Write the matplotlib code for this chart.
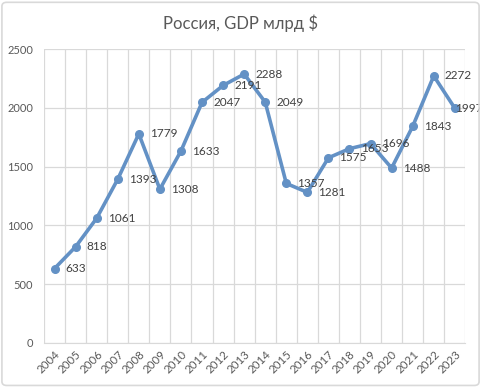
import numpy as np
import matplotlib
matplotlib.use('Agg')
import matplotlib.pyplot as plt
from matplotlib.patches import FancyBboxPatch

# Data
years = ['2004', '2005', '2006', '2007', '2008', '2009', '2010', '2011', '2012', '2013',
         '2014', '2015', '2016', '2017', '2018', '2019', '2020', '2021', '2022', '2023']
gdp = [633, 818, 1061, 1393, 1779, 1308, 1633, 2047, 2191, 2288,
       2049, 1357, 1281, 1575, 1653, 1696, 1488, 1843, 2272, 1997]

plt.rcParams['font.family'] = ['Lato', 'DejaVu Sans']

fig = plt.figure(figsize=(4.81, 3.87), dpi=100)
fig.patch.set_facecolor('white')
# light frame around the chart
fig.patches.append(FancyBboxPatch((0.004, 0.004), 0.992, 0.99, boxstyle='round,pad=0,rounding_size=0.01',
                                  transform=fig.transFigure, fill=False, ec='#d9d9d9', lw=1.2))

ax = fig.add_axes([0.0915, 0.114, 0.876, 0.759])
x = np.arange(len(years))
line_color = '#6391c5'
ax.plot(x, gdp, color=line_color, lw=2.6, marker='o', ms=5.5, zorder=3)

for xi, v in zip(x, gdp):
    # last label squeezed inside the chart, as Excel does
    dx = 0 if xi == len(years) - 1 else 8
    ax.annotate(str(v), (xi, v), xytext=(dx, 0), textcoords='offset points',
                ha='left', va='center', fontsize=8.5, color='#404040', zorder=4,
                annotation_clip=False, clip_on=False)

ax.set_xlim(-0.5, len(years) - 0.5)
ax.set_ylim(0, 2500)
ax.set_yticks(range(0, 2501, 500))
ax.set_xticks(x)
ax.set_xticklabels(years, rotation=45, ha='right', rotation_mode='anchor', fontsize=8.3, color='#595959')
ax.tick_params(axis='y', labelsize=8, labelcolor='#595959', length=0, pad=8)
ax.tick_params(axis='x', length=0, pad=4)

# gridlines between categories like Excel
ax.set_xticks(np.arange(-0.5, len(years), 1), minor=True)
ax.tick_params(axis='x', which='minor', length=0)
ax.grid(True, axis='y', color='#d9d9d9', lw=0.9)
ax.grid(True, axis='x', which='minor', color='#d9d9d9', lw=0.9)
ax.set_axisbelow(True)
for s in ax.spines.values():
    s.set_visible(False)
ax.spines['bottom'].set_visible(True)
ax.spines['bottom'].set_color('#d9d9d9')

fig.suptitle('Россия, GDP млрд $', x=0.5, y=0.962, fontsize=12, color='#595959')

fig.savefig('out.png', dpi=100)
